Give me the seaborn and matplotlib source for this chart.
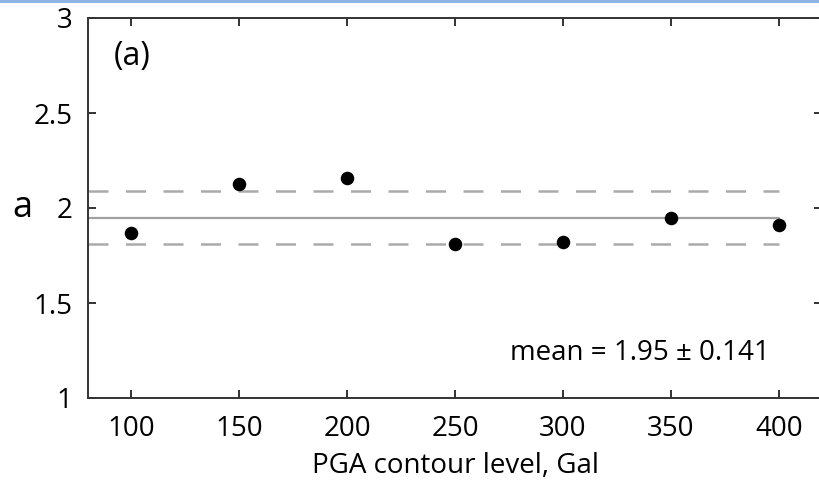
import matplotlib
matplotlib.use("Agg")
import matplotlib.pyplot as plt
import seaborn as sns
import pandas as pd
from matplotlib.patches import Rectangle

# data
levels = [100, 150, 200, 250, 300, 350, 400]
a_vals = [1.87, 2.125, 2.16, 1.81, 1.82, 1.95, 1.91]
mean_a = 1.95
std_a = 0.141

df = pd.DataFrame({"level": levels, "a": a_vals})

sns.set_style("ticks")
plt.rcParams['font.family'] = ['Open Sans', 'DejaVu Sans']

fig = plt.figure(figsize=(8.19, 4.82), dpi=100)
ax = fig.add_axes([88/819, 1 - 398/482, (822 - 88)/819, (398 - 18)/482])

# mean and +/- one std lines
ax.plot([80, 400], [mean_a, mean_a], color="#a0a0a0", lw=1.6, zorder=1)
for yv in [mean_a + std_a, mean_a - std_a]:
    ax.plot([80, 400], [yv, yv], color="#aaaaaa", lw=1.8,
            dashes=(8, 7), zorder=1)

sns.scatterplot(data=df, x="level", y="a", color="black", s=95,
                edgecolor="black", linewidth=0, ax=ax, zorder=3)

ax.set_xlim(80, 420)
ax.set_ylim(1, 3)
ax.set_xticks(levels)
ax.set_yticks([1, 1.5, 2, 2.5, 3])
ax.set_yticklabels(["1", "1.5", "2", "2.5", "3"])
ax.tick_params(direction="in", top=True, right=True, labelsize=20,
               length=6, width=1.3, colors="#222222", labelcolor="black")
ax.tick_params(axis="x", pad=12)
ax.tick_params(axis="y", pad=11)
for s in ax.spines.values():
    s.set_linewidth(1.4)
    s.set_color("#333333")

ax.set_xlabel("PGA contour level, Gal", fontsize=20, va="center", color="black")
ax.xaxis.set_label_coords(0.5, -0.179)
ax.set_ylabel("a", fontsize=26, rotation=0, va="center", ha="center", color="black")
ax.yaxis.set_label_coords(-0.09, 0.5)

ax.text(0.035, 0.9, "(a)", transform=ax.transAxes, fontsize=23,
        va="center", ha="left", color="black")
ax.text(0.575, 0.118, "mean = 1.95 \u00b1 0.141", transform=ax.transAxes,
        fontsize=20, va="center", ha="left", color="black")

# thin blue border line at the very top
fig.add_artist(Rectangle((0, 1 - 3/482), 1, 3/482, transform=fig.transFigure,
                         color="#8db4e2", lw=0))

fig.savefig("out.png", dpi=100)
